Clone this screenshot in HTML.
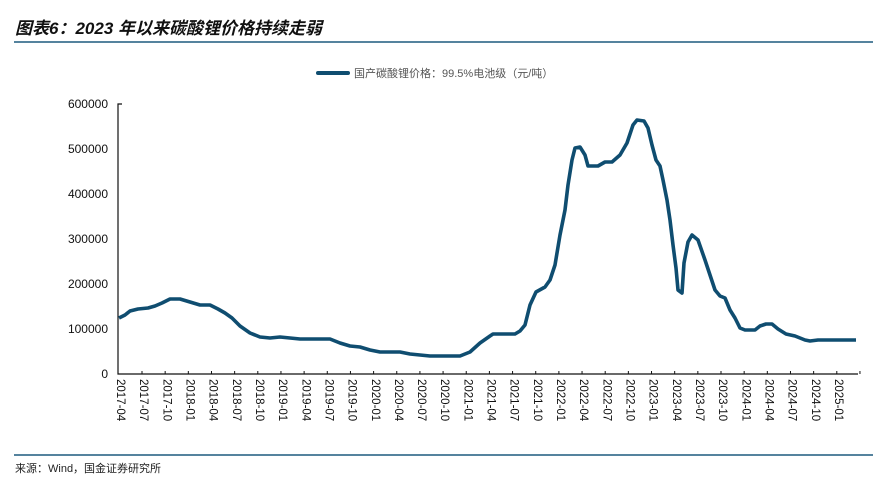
<!DOCTYPE html>
<html><head><meta charset="utf-8"><style>
body{margin:0;background:#fff;width:873px;height:485px;overflow:hidden}
svg text{font-family:"Liberation Sans","Noto Sans CJK SC",sans-serif}
</style></head><body>
<svg width="873" height="485" xmlns="http://www.w3.org/2000/svg">
<text x="15" y="34" font-size="17" font-weight="bold" font-style="italic" fill="#111">图表6：2023 年以来碳酸锂价格持续走弱</text>
<line x1="14" y1="42" x2="873" y2="42" stroke="#1d5a7f" stroke-width="1.5"/>
<line x1="318" y1="73" x2="348" y2="73" stroke="#0f4d70" stroke-width="4" stroke-linecap="round"/>
<text x="354" y="77" font-size="11" fill="#555">国产碳酸锂价格：99.5%电池级（元/吨）</text>
<g font-size="12" fill="#111" text-anchor="end">
<text x="108" y="108">600000</text><text x="108" y="153">500000</text><text x="108" y="198">400000</text>
<text x="108" y="243">300000</text><text x="108" y="288">200000</text><text x="108" y="333">100000</text><text x="108" y="378">0</text>
</g>
<path d="M122,104 H118 V374 H858" fill="none" stroke="#111" stroke-width="1.2"/>
<g id="ticks" stroke="#111"></g>
<g id="lbl" font-size="11.5" fill="#111"></g>
<polyline fill="none" stroke="#0f4d70" stroke-width="3.6" stroke-linejoin="round" points="119,318 125,315 130,311 138,309 148,308 155,306 162,303 170,299 180,299 190,302 200,305 210,305 218,309 225,313 232,318 240,326 250,333 260,337 270,338 280,337 290,338 300,339 320,339 330,339 340,343 350,346 360,347 370,350 380,352 400,352 410,354 420,355 430,356 450,356 460,356 470,352 480,343 490,336 493,334 500,334 515,334 520,331 525,325 530,305 536,292 545,287 550,280 555,265 560,235 565,210 568,185 572,160 575,148 580,147 585,155 588,166 598,166 605,162 612,162 620,155 627,143 633,125 637,120 644,121 648,128 652,145 656,160 660,166 663,180 667,200 670,220 673,245 676,268 678,290 682,293 684,263 688,242 692,235 698,240 705,260 710,275 715,290 720,296 725,298 730,310 735,318 740,328 745,330 755,330 760,326 766,324 772,324 778,329 786,334 795,336 805,340 810,341 818,340 830,340 840,340 856,340"/>
<line x1="14" y1="455" x2="873" y2="455" stroke="#1d5a7f" stroke-width="1.5"/>
<text x="15" y="472" font-size="11" fill="#222">来源：Wind，国金证券研究所</text>
</svg>
<script>
var t=document.getElementById('ticks'),l=document.getElementById('lbl'),ns='http://www.w3.org/2000/svg';
var y=2017,m=4;
for(var i=0;i<32;i++){
 var x=121+i*23.16;
 var tk=document.createElementNS(ns,'line');tk.setAttribute('x1',x+21);tk.setAttribute('x2',x+21);tk.setAttribute('y1',371);tk.setAttribute('y2',374);t.appendChild(tk);
 var tx=document.createElementNS(ns,'text');tx.setAttribute('transform','translate('+(x-4)+',379) rotate(90)');
 tx.textContent=y+'-'+(m<10?'0':'')+m;l.appendChild(tx);
 m+=3;if(m>12){m-=12;y++;}
}
</script>
</body></html>
